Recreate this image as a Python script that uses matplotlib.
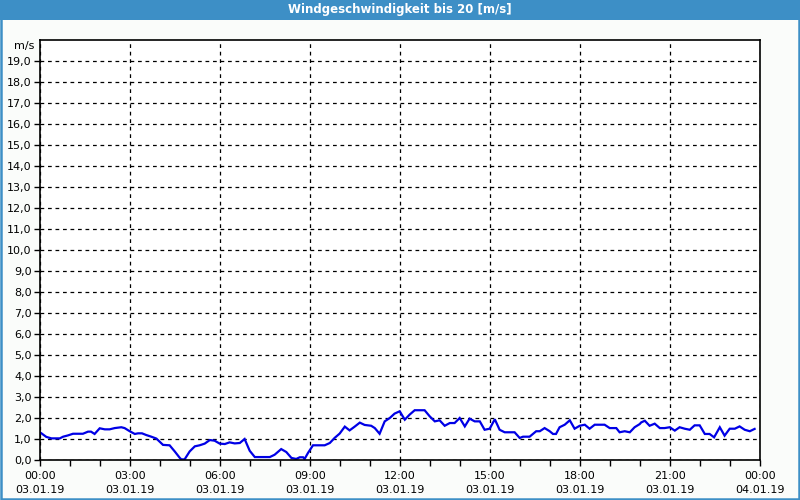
import matplotlib
matplotlib.use("Agg")
import matplotlib.pyplot as plt
from matplotlib.patches import Rectangle
from matplotlib.ticker import FixedLocator, MultipleLocator, FuncFormatter

# Time in hours since 03.01.19 00:00, wind speed in m/s
hours = [0.0, 0.21, 0.38, 0.66, 0.77, 0.93, 1.1, 1.43, 1.6, 1.7, 1.82, 1.99, 2.16, 2.32,
         2.49, 2.71, 2.82, 2.99, 3.16, 3.27, 3.4, 3.54, 3.71, 3.88, 4.1, 4.32, 4.49,
         4.66, 4.71, 4.82, 4.99, 5.16, 5.32, 5.49, 5.66, 5.82, 5.99, 6.16, 6.32, 6.49,
         6.66, 6.82, 6.99, 7.16, 7.32, 7.66, 7.82, 8.04, 8.21, 8.38, 8.54, 8.66, 8.77,
         8.82, 8.93, 9.1, 9.27, 9.49, 9.66, 9.82, 9.99, 10.16, 10.32, 10.49, 10.66,
         10.82, 11.04, 11.16, 11.32, 11.49, 11.66, 11.82, 11.99, 12.16, 12.32, 12.49,
         12.82, 12.99, 13.16, 13.32, 13.49, 13.66, 13.82, 13.99, 14.16, 14.32, 14.49,
         14.66, 14.82, 14.99, 15.16, 15.32, 15.49, 15.82, 15.99, 16.1, 16.32, 16.54,
         16.66, 16.82, 16.99, 17.1, 17.2, 17.32, 17.49, 17.66, 17.82, 17.99, 18.16,
         18.32, 18.49, 18.82, 18.99, 19.21, 19.32, 19.49, 19.66, 19.82, 19.99, 20.04,
         20.16, 20.32, 20.49, 20.66, 20.82, 20.99, 21.16, 21.32, 21.49, 21.66, 21.82,
         21.99, 22.16, 22.32, 22.47, 22.66, 22.82, 22.99, 23.16, 23.32, 23.49, 23.66,
         23.82]
speed = [1.32, 1.10, 1.03, 1.03, 1.11, 1.17, 1.25, 1.25, 1.35, 1.35, 1.24, 1.51, 1.46, 1.46,
         1.52, 1.56, 1.52, 1.37, 1.24, 1.27, 1.27, 1.19, 1.11, 1.02, 0.72, 0.70, 0.41,
         0.10, 0.03, 0.03, 0.41, 0.65, 0.70, 0.78, 0.95, 0.92, 0.78, 0.76, 0.84, 0.79,
         0.81, 1.00, 0.44, 0.14, 0.14, 0.14, 0.25, 0.52, 0.38, 0.10, 0.05, 0.13, 0.13,
         0.05, 0.33, 0.70, 0.70, 0.70, 0.81, 1.05, 1.26, 1.59, 1.41, 1.59, 1.78,
         1.67, 1.63, 1.52, 1.25, 1.84, 2.00, 2.21, 2.32, 1.92, 2.16, 2.37,
         2.37, 2.08, 1.84, 1.89, 1.63, 1.76, 1.76, 2.00, 1.60, 1.97, 1.84,
         1.84, 1.44, 1.49, 1.94, 1.44, 1.32, 1.32, 1.05, 1.11, 1.11, 1.37,
         1.37, 1.52, 1.37, 1.24, 1.24, 1.56, 1.68, 1.89, 1.49, 1.63, 1.68,
         1.49, 1.68, 1.68, 1.52, 1.52, 1.32, 1.37, 1.32, 1.56, 1.71, 1.79,
         1.87, 1.63, 1.73, 1.52, 1.52, 1.56, 1.40, 1.56, 1.49, 1.44, 1.65,
         1.65, 1.24, 1.24, 1.08, 1.56, 1.16, 1.49, 1.49, 1.60, 1.44, 1.37,
         1.48]

x_tick_hours = [0, 3, 6, 9, 12, 15, 18, 21, 24]
x_tick_labels = ["00:00\n03.01.19", "03:00\n03.01.19", "06:00\n03.01.19",
                 "09:00\n03.01.19", "12:00\n03.01.19", "15:00\n03.01.19",
                 "18:00\n03.01.19", "21:00\n03.01.19", "00:00\n04.01.19"]
title = "Windgeschwindigkeit bis 20 [m/s]"
unit = "m/s"

BLUE = "#3d8fc6"
fig = plt.figure(figsize=(8, 5), dpi=100, facecolor="#fafcfa")

# Title bar and outer border
fig.patches.append(Rectangle((0, 0.96), 1, 0.04, transform=fig.transFigure,
                             facecolor=BLUE, edgecolor="none", zorder=0))
fig.patches.append(Rectangle((0.001, 0.002), 0.998, 0.996, transform=fig.transFigure,
                             facecolor="none", edgecolor=BLUE, linewidth=1.8, zorder=0))
fig.text(0.5, 0.981, title, color="white", fontsize=8.5, fontweight="bold",
         ha="center", va="center", family="DejaVu Sans")

ax = fig.add_axes([0.05, 0.08, 0.90, 0.84])
ax.set_facecolor("white")
ax.plot(hours, speed, color="#0000e6", linewidth=1.6, solid_joinstyle="miter")

ax.set_xlim(0, 24)
ax.set_ylim(0, 20)
ax.xaxis.set_major_locator(FixedLocator(x_tick_hours))
ax.set_xticklabels(x_tick_labels, fontsize=8, linespacing=1.5)
ax.xaxis.set_minor_locator(MultipleLocator(1))
ax.yaxis.set_major_locator(FixedLocator(list(range(0, 20))))
ax.yaxis.set_major_formatter(FuncFormatter(lambda v, p: f"{v:.1f}".replace(".", ",")))
ax.tick_params(axis="y", labelsize=8, length=4, width=1, pad=2, colors="black")
ax.tick_params(axis="x", which="major", length=4, width=1, pad=4)
ax.tick_params(axis="x", which="minor", length=4, width=1)
ax.grid(True, which="major", color="black", linestyle=(0, (3, 3)), linewidth=0.9)
for s in ax.spines.values():
    s.set_color("black")
    s.set_linewidth(1.2)

fig.text(0.043, 0.908, unit, fontsize=8, ha="right", va="center")

fig.savefig("out.png", dpi=100, facecolor=fig.get_facecolor())
